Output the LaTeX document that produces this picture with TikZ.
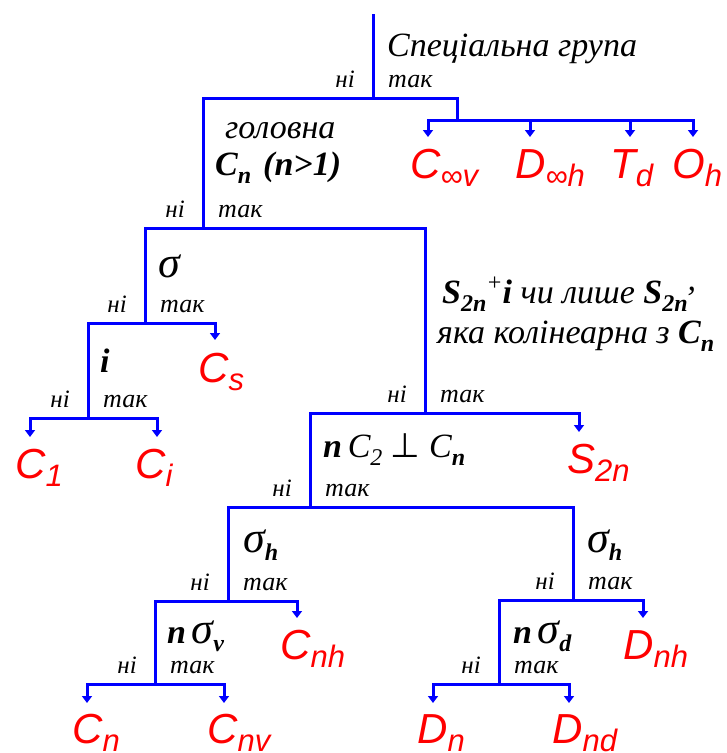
\documentclass[tikz,border=0pt]{standalone}
\usepackage{fontspec}
\setmainfont{Liberation Serif}
\setsansfont{Liberation Sans}
\newfontfamily\symfnt{DejaVu Sans}
\usetikzlibrary{arrows.meta}
\definecolor{lineblue}{RGB}{0,0,255}
\definecolor{leafred}{RGB}{255,0,0}
\newcommand\bsub[1]{\raisebox{-8pt}{\fontsize{24}{24}\selectfont\bfseries\itshape #1}}
\newcommand\lsub[1]{\raisebox{-8pt}{\fontsize{31}{31}\selectfont #1}}
\newcommand\bi[1]{{\bfseries\itshape #1}}
\newcommand\sig{{\fontsize{44}{44}\selectfont σ}}
\newcommand\yn[1]{%
  \node[nolbl] (#1no) at ([shift={(-18,-11)}]#1) {ні};
  \node[yeslbl] (#1yes) at ([shift={(15,-11)}]#1) {так};}
\tikzset{
  tree/.style={draw=lineblue, line width=3pt, line join=miter},
  arr/.style={tree, -{Triangle[width=10pt,length=7pt]}},
  nolbl/.style={inner sep=0pt, anchor=base east, font=\fontsize{25}{25}\selectfont\itshape},
  yeslbl/.style={inner sep=0pt, anchor=base west, font=\fontsize{26}{26}\selectfont\itshape},
  qlbl/.style={inner sep=0pt, anchor=base west, font=\fontsize{34}{34}\selectfont\itshape},
  leaf/.style={inner sep=0pt, anchor=base west, text=leafred, font=\fontsize{42}{42}\selectfont\sffamily\itshape}
}
\begin{document}
\begin{tikzpicture}[x=1pt,y=-1pt]
\useasboundingbox (0,0) rectangle (727,753);
% junctions
\coordinate (top) at (373,14);
\coordinate (dSpec) at (373,98);
\coordinate (dFan) at (457,120);
\coordinate (dMain) at (203,228);
\coordinate (dSig) at (145,323);
\coordinate (dI) at (88,418);
\coordinate (dS2n) at (425,413);
\coordinate (dC2) at (310,507);
\coordinate (dShA) at (228,601);
\coordinate (dSv) at (155,684);
\coordinate (dShB) at (573,600);
\coordinate (dSd) at (499,684);
% arrow tips
\coordinate (tCinf) at (428,137);
\coordinate (tDinf) at (530,137);
\coordinate (tTd) at (630,137);
\coordinate (tOh) at (693,137);
\coordinate (tCs) at (215,340);
\coordinate (tC1) at (30,437);
\coordinate (tCi) at (157,437);
\coordinate (tS2n) at (579,432);
\coordinate (tCnh) at (297,618);
\coordinate (tDnh) at (643,618);
\coordinate (tCn) at (87,703);
\coordinate (tCnv) at (224,703);
\coordinate (tDn) at (433,703);
\coordinate (tDnd) at (569,703);
% connectors
\draw[tree] (top) -- (dSpec);
\draw[tree] (dMain) |- (dSpec) -| (dFan);
\draw[arr] (dFan) -| (tCinf);
\draw[arr] (dFan) -| (tDinf);
\draw[arr] (dFan) -| (tTd);
\draw[arr] (dFan) -| (tOh);
\draw[tree] (dSig) |- (dMain) -| (dS2n);
\draw[arr] (dI) |- (dSig) -| (tCs);
\draw[arr] (dI) -| (tC1);
\draw[arr] (dI) -| (tCi);
\draw[arr] (dC2) |- (dS2n) -| (tS2n);
\draw[tree] (dShA) |- (dC2) -| (dShB);
\draw[arr] (dSv) |- (dShA) -| (tCnh);
\draw[arr] (dSv) -| (tCn);
\draw[arr] (dSv) -| (tCnv);
\draw[arr] (dSd) |- (dShB) -| (tDnh);
\draw[arr] (dSd) -| (tDn);
\draw[arr] (dSd) -| (tDnd);
% yes / no labels
\yn{dSpec}
\yn{dMain}
\yn{dSig}
\yn{dI}
\yn{dS2n}
\yn{dC2}
\yn{dShA}
\yn{dSv}
\yn{dShB}
\yn{dSd}
% questions
\node[qlbl] (qSpec) at (387,56) {Спеціальна група};
\node[qlbl] (qMainA) at (225,138) {головна};
\node[qlbl] (qMainB) at (215,175) {\bi{C}\bsub{n}\hspace{12pt}\bi{(n>1)}};
\node[qlbl] (qSig) at (158,277) {\sig};
\node[qlbl] (qI) at (100,372) {\bi{i}};
\node[qlbl] (qS2nA) at (442,303) {\bi{S}\bsub{2n}\raisebox{13pt}{\fontsize{24}{24}\selectfont +}\bi{i} чи лише \bi{S}\bsub{2n}\raisebox{13pt}{,}};
\node[qlbl] (qS2nB) at (437,343) {яка колінеарна з \bi{C}\bsub{n}};
\node[qlbl] (qC2) at (323,457) {\bi{n}\,C\raisebox{-8pt}{\fontsize{24}{24}\selectfont 2} {\symfnt\upshape ⊥} C\bsub{n}};
\node[qlbl] (qShA) at (243,552) {\sig\bsub{h}};
\node[qlbl] (qSv) at (167,643) {\bi{n}\,\sig\bsub{v}};
\node[qlbl] (qShB) at (587,552) {\sig\bsub{h}};
\node[qlbl] (qSd) at (513,643) {\bi{n}\,\sig\bsub{d}};
% leaves
\node[leaf] (Cinf) at (410,178) {C\lsub{∞v}};
\node[leaf] (Dinf) at (515,178) {D\lsub{∞h}};
\node[leaf] (Td) at (610,178) {T\lsub{d}};
\node[leaf] (Oh) at (672,178) {O\lsub{h}};
\node[leaf] (Cs) at (198,382) {C\lsub{s}};
\node[leaf] (C1) at (15,478) {C\lsub{1}};
\node[leaf] (Ci) at (135,478) {C\lsub{i}};
\node[leaf] (S2n) at (567,473) {S\lsub{2n}};
\node[leaf] (Cnh) at (280,659) {C\lsub{nh}};
\node[leaf] (Dnh) at (623,659) {D\lsub{nh}};
\node[leaf] (Cn) at (72,743) {C\lsub{n}};
\node[leaf] (Cnv) at (207,743) {C\lsub{nv}};
\node[leaf] (Dn) at (417,743) {D\lsub{n}};
\node[leaf] (Dnd) at (552,743) {D\lsub{nd}};
\end{tikzpicture}
\end{document}
